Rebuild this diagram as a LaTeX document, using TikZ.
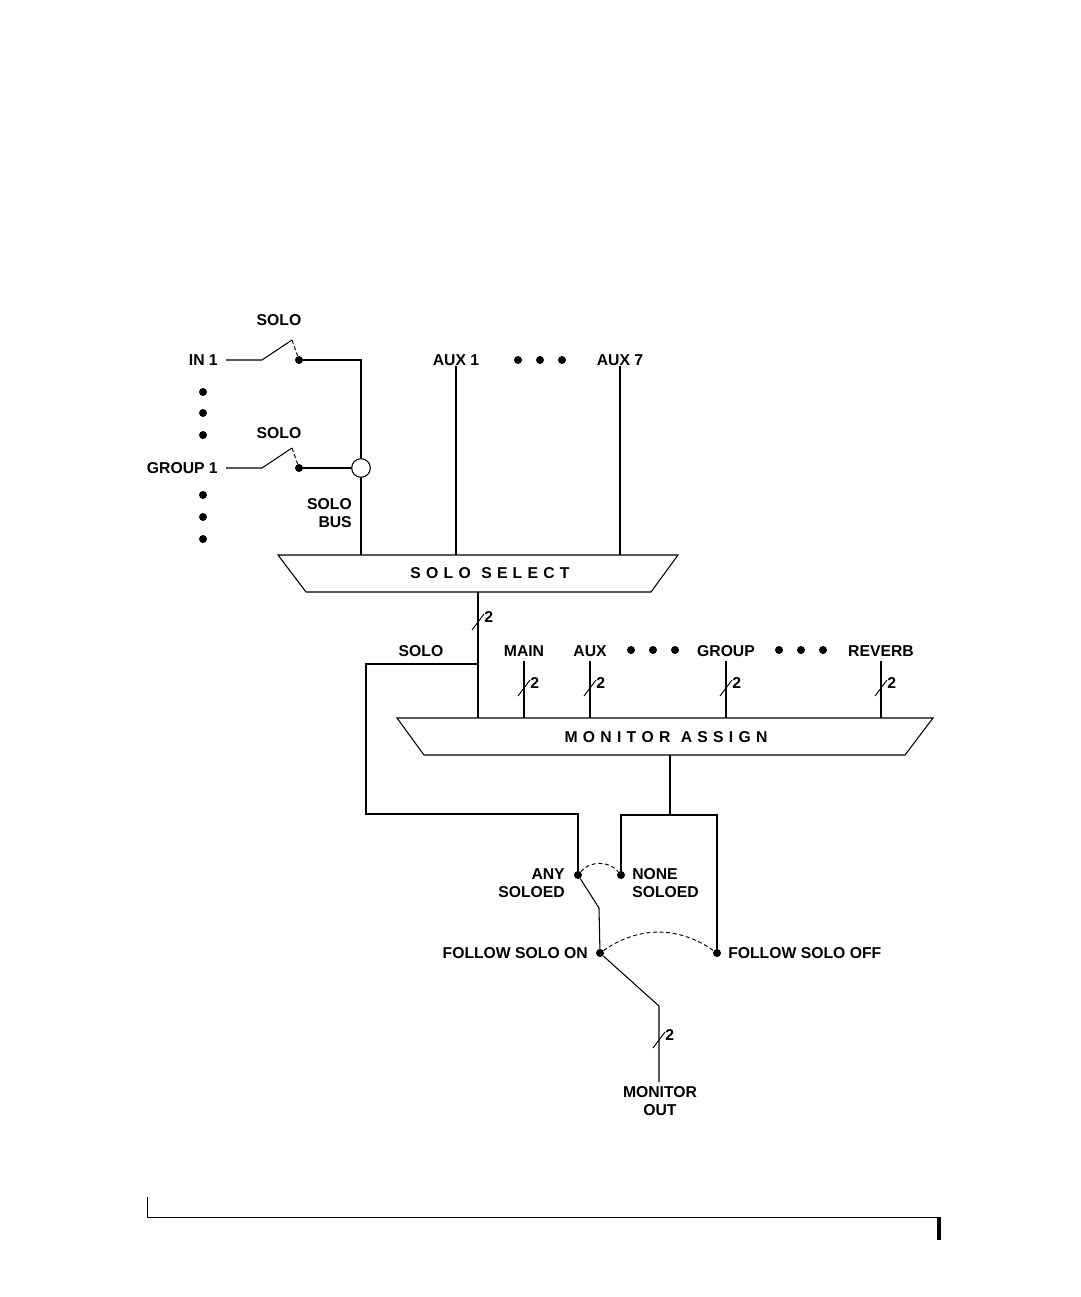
\documentclass[tikz,border=0pt]{standalone}
\usepackage{fontspec}
\setmainfont{Liberation Sans}
\usetikzlibrary{positioning}
\tikzset{
  lbl/.style={font=\fontsize{11.8}{13}\selectfont\bfseries, inner sep=0pt, align=center},
  wire/.style={line width=0.8pt},
  dot/.style={circle, fill=black, inner sep=0pt, minimum size=6pt},
  sw/.style={densely dashed, line width=0.7pt},
  slash/.style={line width=0.7pt},
}
\newcommand{\busslash}[3]{% x, y, label
  \draw[slash] (#1-6,#2+8) -- (#1+6,#2-8);
  \node[lbl, anchor=west] at (#1+6,#2-5) {#3};}
\begin{document}
\begin{tikzpicture}[x=0.75pt,y=-0.75pt]
\useasboundingbox (0,0) rectangle (1081,1297);

% input switches
\node[lbl, anchor=east] (in1) at (218,360) {IN 1};
\node[lbl] at (279,320) {SOLO};
\node[dot] (in1c) at (299,360) {};
\draw[wire] (226,360) -- (262,360) -- (292,340);
\draw[sw] (292,340) -- (in1c);
\node[lbl, anchor=east] (grp1) at (218,468) {GROUP 1};
\node[lbl] at (279,433) {SOLO};
\node[dot] (grp1c) at (299,468) {};
\draw[wire] (226,468) -- (262,468) -- (292,448);
\draw[sw] (292,448) -- (grp1c);
\foreach \y in {392,413,435,495,517,539}
  \node[dot] at (203,\y) {};
\node[circle, draw, line width=0.8pt, fill=white, minimum size=14pt, inner sep=0pt] (join) at (361,468) {};
\draw[wire] (in1c) -- (361,360) -- (join.north);
\draw[line width=1.3pt] (grp1c) -- (join.west);
\node[lbl, align=right, anchor=east] at (352,513) {SOLO\\BUS};

% solo select
\node[lbl] (aux1) at (456,360) {AUX 1};
\node[lbl] (aux7) at (620,360) {AUX 7};
\foreach \x in {518,540,562}
  \node[dot] at (\x,360) {};
\draw[wire] (278,555) -- (678,555) -- (651,592) -- (306,592) -- cycle;
\node[lbl] (ssel) at (490,573) {S\,\,O\,\,L\,\,O\,\,\,\,S\,\,E\,\,L\,\,E\,\,C\,\,T};
\draw[wire] (join.south) -- (361,555);
\draw[wire] (aux1.south) -- (456,555);
\draw[wire] (aux7.south) -- (620,555);

% monitor assign
\draw[wire] (478,592) -- (478,718);
\busslash{478}{622}{2}
\node[lbl] (solo) at (421,651) {SOLO};
\foreach \name/\x in {MAIN/524,AUX/590,GROUP/726,REVERB/881}{
  \node[lbl] at (\x,651) {\name};
  \draw[wire] (\x,661) -- (\x,718);
  \busslash{\x}{688}{2}
}
\foreach \x in {631,653,675,779,801,823}
  \node[dot] at (\x,650) {};
\draw[wire] (397,718) -- (933,718) -- (905,755) -- (424,755) -- cycle;
\node[lbl] (massign) at (666,737) {M\,\,O\,\,N\,\,I\,\,T\,\,O\,\,R\,\,\,\,A\,\,S\,\,S\,\,I\,\,G\,\,N};

% follow solo switches
\node[dot] (any) at (578,875) {};
\node[dot] (none) at (621,875) {};
\node[dot] (fson) at (600,953) {};
\node[dot] (fsoff) at (717,953) {};
\node[lbl, align=right, anchor=east] at (565,883) {ANY\\SOLOED};
\node[lbl, align=left, anchor=west] at (632,883) {NONE\\SOLOED};
\node[lbl, anchor=east] at (588,953) {FOLLOW SOLO ON};
\node[lbl, anchor=west] at (728,953) {FOLLOW SOLO OFF};
\draw[wire] (478,664) -- (366,664) -- (366,814) -- (578,814) -- (any);
\draw[wire] (670,755) -- (670,815);
\draw[wire] (none) -- (621,815) -- (717,815) -- (fsoff);
\draw[sw] (any) to[bend left=50] (none);
\draw[sw] (fson) to[bend left=35] (fsoff);
\draw[wire] (any) -- (599,908) -- (fson);
\draw[wire] (fson) -- (659,1006) -- (659,1082);
\busslash{659}{1040}{2}
\node[lbl] (mout) at (660,1101) {MONITOR\\OUT};

% page frame
\draw[line width=0.6pt] (147,1197) -- (147,1217) -- (940,1217);
\draw[line width=2.5pt] (939,1217) -- (939,1240);
\end{tikzpicture}
\end{document}
